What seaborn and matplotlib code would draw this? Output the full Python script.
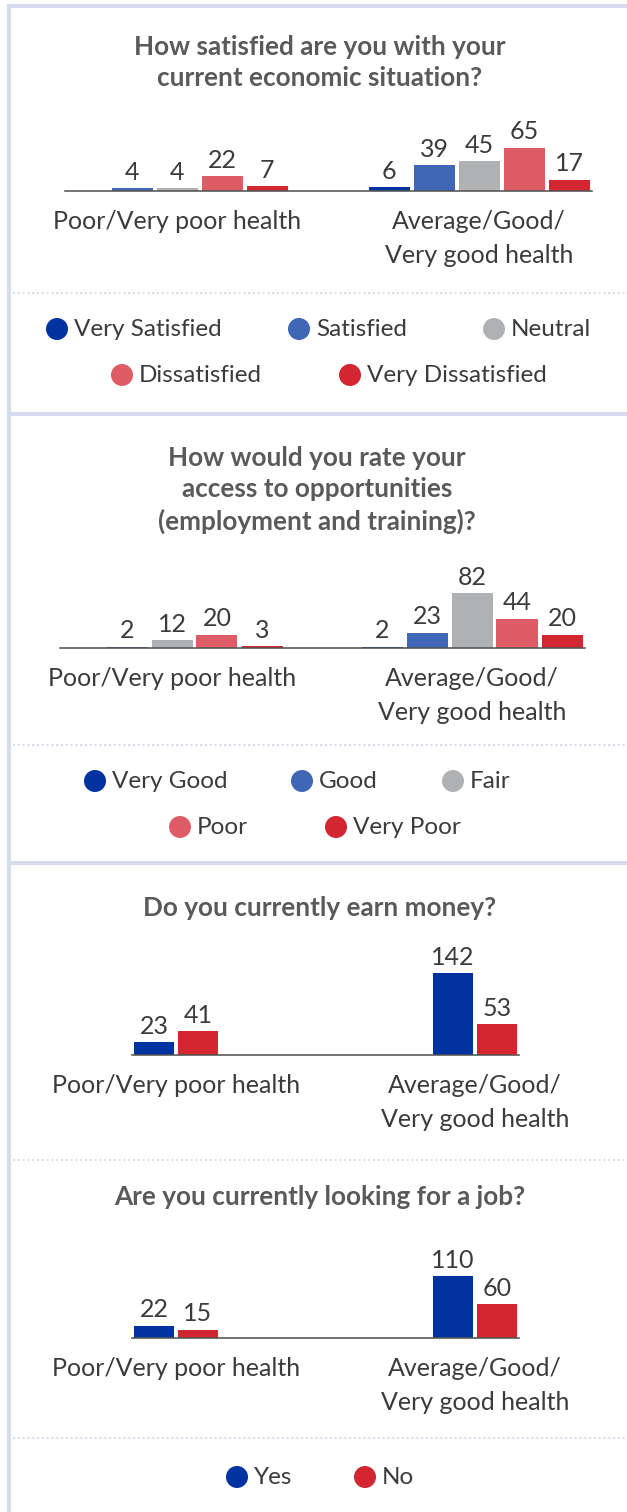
import matplotlib
matplotlib.use("Agg")
import matplotlib.pyplot as plt
import seaborn as sns
import pandas as pd

# ---- data -------------------------------------------------------------
groups = ["Poor/Very poor health", "Average/Good/\nVery good health"]

satisfaction_levels = ["Very Satisfied", "Satisfied", "Neutral",
                       "Dissatisfied", "Very Dissatisfied"]
satisfaction_poor = [0, 4, 4, 22, 7]
satisfaction_good = [6, 39, 45, 65, 17]

access_levels = ["Very Good", "Good", "Fair", "Poor", "Very Poor"]
access_poor = [0, 2, 12, 20, 3]
access_good = [2, 23, 82, 44, 20]

answer_levels = ["Yes", "No"]
earn_poor = [23, 41]
earn_good = [142, 53]
job_poor = [22, 15]
job_good = [110, 60]

titles = [
    "How satisfied are you with your\ncurrent economic situation?",
    "How would you rate your\naccess to opportunities\n(employment and training)?",
    "Do you currently earn money?",
    "Are you currently looking for a job?",
]

five_colors = ["#0033a0", "#4066b6", "#b0b1b3", "#dd5c66", "#d22630"]
two_colors = ["#0033a0", "#d22630"]

# ---- styling ----------------------------------------------------------
sns.set_theme(style="white")
plt.rcParams["font.family"] = ["Lato", "DejaVu Sans"]
TEXT = "#3b3b3b"
TITLE = "#5a5a5a"
FRAME = "#d5dcee"
AXIS = "#555555"
LABEL_PT = 18
LEGEND_PT = 17.5
VALUE_PT = 18
TITLE_PT = 18.8

W, H, DPI = 627, 1512, 100
fig = plt.figure(figsize=(W / DPI, H / DPI), dpi=DPI)
PX = 72 / DPI  # points per pixel


def px_axes(left, top, width, height):
    return fig.add_axes([left / W, 1 - (top + height) / H, width / W, height / H])


# overlay in pixel coordinates for frame, titles and legends
ov = px_axes(0, 0, W, H)
ov.set_xlim(0, W)
ov.set_ylim(H, 0)
ov.axis("off")

# frame
ov.plot([9, 9], [4, H], color=FRAME, lw=4 * PX, solid_capstyle="butt")
ov.plot([7, W], [5.5, 5.5], color=FRAME, lw=4 * PX, solid_capstyle="butt")
for y in (414, 863):
    ov.plot([11, W], [y, y], color=FRAME, lw=4 * PX, solid_capstyle="butt")
for y in (293, 745, 1160, 1438):
    ov.plot([13, W], [y, y], color=FRAME, lw=2 * PX, linestyle=(0, (1, 1.4)))

# titles
ov.text(320, 62.5, titles[0], ha="center", va="center", fontsize=TITLE_PT,
        fontweight="bold", color=TITLE, linespacing=1.36)
ov.text(317, 490, titles[1], ha="center", va="center", fontsize=TITLE_PT,
        fontweight="bold", color=TITLE, linespacing=1.36)
ov.text(320, 908, titles[2], ha="center", va="center", fontsize=TITLE_PT,
        fontweight="bold", color=TITLE)
ov.text(320, 1197, titles[3], ha="center", va="center", fontsize=TITLE_PT,
        fontweight="bold", color=TITLE)


def legend_row(labels, colors, xs, y):
    for lab, col, x in zip(labels, colors, xs):
        ov.scatter([x], [y], s=(22 * PX) ** 2, color=col, edgecolor="none")
        ov.text(x + 17, y, lab, ha="left", va="center", fontsize=LEGEND_PT,
                color=TEXT)


legend_row(satisfaction_levels[:3], five_colors[:3], [57, 299, 494], 329)
legend_row(satisfaction_levels[3:], five_colors[3:], [122, 350], 375)
legend_row(access_levels[:3], five_colors[:3], [95, 302, 453], 781)
legend_row(access_levels[3:], five_colors[3:], [180, 336], 827)
legend_row(answer_levels, two_colors, [237, 365], 1477)


def panel(levels, poor, good, colors, centers, baseline, px_per_unit,
          slot, gap):
    df = pd.DataFrame({
        "group": [groups[0]] * len(levels) + [groups[1]] * len(levels),
        "level": list(levels) * 2,
        "value": list(poor) + list(good),
    })
    spacing = centers[1] - centers[0]
    half = slot * len(levels) / 2
    left_px = centers[0] - half
    right_px = centers[1] + half
    height_px = 140
    ax = px_axes(left_px, baseline - height_px, right_px - left_px, height_px)
    ax.set_facecolor("none")
    sns.barplot(data=df, x="group", y="value", hue="level", order=groups,
                hue_order=levels, palette=colors, width=slot * len(levels) / spacing,
                gap=gap / slot, saturation=1, legend=False, ax=ax, edgecolor="none")
    ax.set_xlim((left_px - centers[0]) / spacing, (right_px - centers[0]) / spacing)
    ax.set_ylim(0, height_px / px_per_unit)
    for cont, lvl_i in zip(ax.containers, range(len(levels))):
        vals = [poor[lvl_i], good[lvl_i]]
        ax.bar_label(cont, labels=[str(v) if v > 0 else "" for v in vals],
                     padding=3, fontsize=VALUE_PT, color=TEXT)
    sns.despine(ax=ax, left=True)
    ax.spines["bottom"].set_color(AXIS)
    ax.spines["bottom"].set_linewidth(1.6 * PX)
    ax.set_yticks([])
    ax.set_xlabel("")
    ax.set_ylabel("")
    ax.tick_params(axis="x", length=0, pad=14, labelsize=LABEL_PT, labelcolor=TEXT)
    for t in ax.get_xticklabels():
        t.set_linespacing(1.55)
        t.set_verticalalignment("top")
    return ax


panel(satisfaction_levels, satisfaction_poor, satisfaction_good, five_colors,
      (177, 479), 191, 0.667, 45, 4)
panel(access_levels, access_poor, access_good, five_colors,
      (172, 472), 648, 0.667, 45, 4)
panel(answer_levels, earn_poor, earn_good, two_colors,
      (176, 475), 1055, 0.577, 44, 4)
panel(answer_levels, job_poor, job_good, two_colors,
      (176, 475), 1338, 0.565, 44, 4)

fig.savefig("out.png", dpi=DPI, facecolor="white")
